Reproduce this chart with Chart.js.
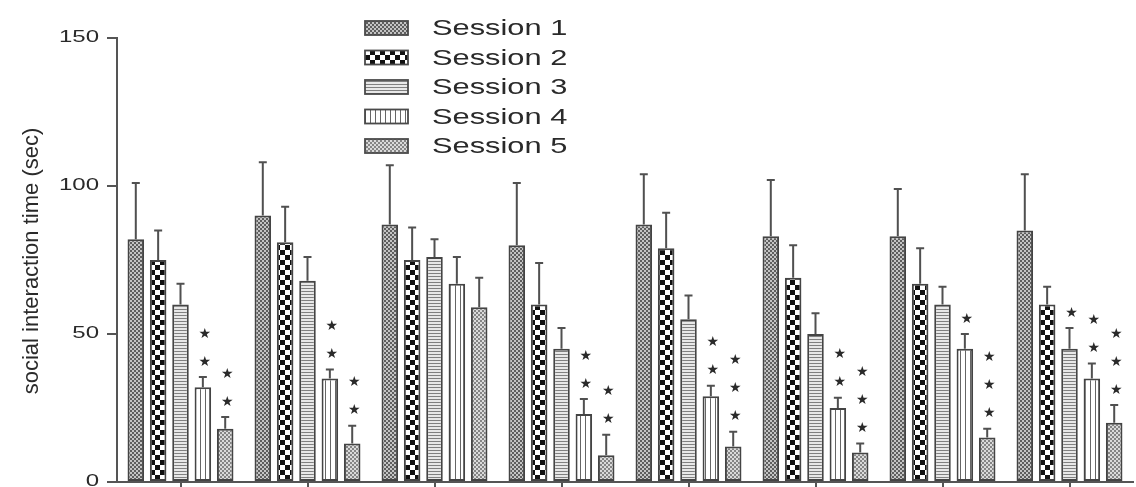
<!DOCTYPE html>
<html>
<head>
<meta charset="utf-8">
<script src="https://cdn.jsdelivr.net/npm/chart.js@4.4.1/dist/chart.umd.min.js"></script>
<style>
  html, body { margin: 0; padding: 0; background: #fff; }
  #wrap { width: 1136px; height: 487px; position: relative; }
</style>
</head>
<body>
<div id="wrap"><canvas id="chart"></canvas></div>
<script>
// --- Data ---
const groups = ['1', '2', '3', '4', '5', '6', '7', '8'];
const sessionNames = ['Session 1', 'Session 2', 'Session 3', 'Session 4', 'Session 5'];

const session1 = [82, 90, 87, 80, 87, 83, 83, 85];
const session2 = [75, 81, 75, 60, 79, 69, 67, 60];
const session3 = [60, 68, 76, 45, 55, 50, 60, 45];
const session4 = [32, 35, 67, 23, 29, 25, 45, 35];
const session5 = [18, 13, 59, 9, 12, 10, 15, 20];

// upper error (sem)
const session1Err = [19, 18, 20, 21, 17, 19, 16, 19];
const session2Err = [10, 12, 11, 14, 12, 11, 12, 6];
const session3Err = [7, 8, 6, 7, 8, 7, 6, 7];
const session4Err = [3.5, 3, 9, 5, 3.5, 3.5, 5, 5];
const session5Err = [4, 6, 10, 7, 5, 3, 3, 6];

// number of asterisks above each bar
const session1Stars = [0, 0, 0, 0, 0, 0, 0, 0];
const session2Stars = [0, 0, 0, 0, 0, 0, 0, 0];
const session3Stars = [0, 0, 0, 0, 0, 0, 0, 1];
const session4Stars = [2, 2, 0, 2, 2, 2, 1, 2];
const session5Stars = [2, 2, 0, 2, 3, 3, 3, 3];

const yTicks = [0, 50, 100, 150];
const yTitle = 'social interaction time (sec)';

const values = [session1, session2, session3, session4, session5];
const errors = [session1Err, session2Err, session3Err, session4Err, session5Err];
const stars = [session1Stars, session2Stars, session3Stars, session4Stars, session5Stars];

// --- Fill patterns ---
function makePattern(kind) {
    const c = document.createElement('canvas');
    const g = c.getContext('2d');
    if (kind === 0 || kind === 4) {
        // fine crosshatch
        c.width = 4; c.height = 4;
        g.fillStyle = kind === 0 ? '#c4c4c4' : '#dadada';
        g.fillRect(0, 0, 4, 4);
        g.fillStyle = kind === 0 ? '#5e5e5e' : '#858585';
        g.fillRect(0, 0, 2, 2);
        g.fillRect(2, 2, 2, 2);
    } else if (kind === 1) {
        // coarse checkerboard
        c.width = 10; c.height = 10;
        g.fillStyle = '#fff';
        g.fillRect(0, 0, 10, 10);
        g.fillStyle = '#111';
        g.fillRect(0, 0, 5, 5);
        g.fillRect(5, 5, 5, 5);
    } else if (kind === 2) {
        // horizontal lines
        c.width = 4; c.height = 3;
        g.fillStyle = '#e8e8e8';
        g.fillRect(0, 0, 4, 3);
        g.fillStyle = '#808080';
        g.fillRect(0, 0, 4, 1);
    } else {
        // vertical lines
        c.width = 5; c.height = 4;
        g.fillStyle = '#ffffff';
        g.fillRect(0, 0, 5, 4);
        g.fillStyle = '#666';
        g.fillRect(0, 0, 1, 4);
    }
    return document.getElementById('chart').getContext('2d').createPattern(c, 'repeat');
}

const patterns = sessionNames.map((_, i) => makePattern(i));

// --- Custom drawing: error bars, asterisks, labels, legend ---
const extrasPlugin = {
    id: 'extras',
    afterDatasetsDraw(chart) {
        const ctx = chart.ctx;
        const y = chart.scales.y;
        ctx.save();
        ctx.strokeStyle = '#505050';
        ctx.lineWidth = 2;
        values.forEach((series, i) => {
            const meta = chart.getDatasetMeta(i);
            series.forEach((v, j) => {
                const bar = meta.data[j];
                const top = y.getPixelForValue(v + errors[i][j]);
                ctx.beginPath();
                ctx.moveTo(bar.x, bar.y);
                ctx.lineTo(bar.x, top);
                ctx.moveTo(bar.x - 4, top);
                ctx.lineTo(bar.x + 4, top);
                ctx.stroke();

                ctx.fillStyle = '#2a2a2a';
                ctx.font = '14px "DejaVu Sans"';
                ctx.textAlign = 'center';
                ctx.textBaseline = 'middle';
                for (let k = 0; k < stars[i][j]; k++) {
                    ctx.fillText('\u2605', bar.x + 2, top - 15 - k * 28);
                }
            });
        });
        ctx.restore();
    },
    afterDraw(chart) {
        const ctx = chart.ctx;
        const y = chart.scales.y;
        ctx.save();
        ctx.fillStyle = '#2a2a2a';

        // y tick labels (wide type as in the source figure)
        ctx.font = '16px "Liberation Sans", Arial, sans-serif';
        ctx.textAlign = 'right';
        ctx.textBaseline = 'middle';
        yTicks.forEach(t => {
            ctx.save();
            ctx.translate(y.left - 8, y.getPixelForValue(t));
            ctx.scale(1.5, 1);
            ctx.fillText(String(t), 0, 0);
            ctx.restore();
        });

        // y axis title
        ctx.save();
        ctx.translate(32, (y.top + y.bottom) / 2 + 1);
        ctx.rotate(-Math.PI / 2);
        ctx.font = '22px "Liberation Sans", Arial, sans-serif';
        ctx.textAlign = 'center';
        ctx.fillText(yTitle, 0, 0);
        ctx.restore();

        // legend
        sessionNames.forEach((name, i) => {
            const rowY = 28 + i * 29.5;
            ctx.fillStyle = patterns[i];
            ctx.fillRect(365, rowY - 7, 43, 14);
            ctx.strokeStyle = '#4a4a4a';
            ctx.lineWidth = 1.8;
            ctx.strokeRect(365, rowY - 7, 43, 14);
            ctx.save();
            ctx.fillStyle = '#2a2a2a';
            ctx.font = '22px "Liberation Sans", Arial, sans-serif';
            ctx.textAlign = 'left';
            ctx.textBaseline = 'middle';
            ctx.translate(432, rowY + 1);
            ctx.scale(1.4, 1);
            ctx.fillText(name, 0, 0);
            ctx.restore();
        });
        ctx.restore();
    }
};

new Chart(document.getElementById('chart'), {
    type: 'bar',
    data: {
        labels: groups,
        datasets: sessionNames.map((name, i) => ({
            label: name,
            data: values[i],
            backgroundColor: patterns[i],
            borderColor: '#444',
            borderWidth: 2,
            borderSkipped: false
        }))
    },
    options: {
        responsive: true,
        maintainAspectRatio: false,
        animation: false,
        layout: { padding: { left: 107, right: 3, top: 38, bottom: 0 } },
        datasets: { bar: { categoryPercentage: 0.88, barPercentage: 0.74 } },
        plugins: {
            legend: { display: false },
            tooltip: { enabled: false }
        },
        scales: {
            x: {
                ticks: { display: false },
                grid: { drawOnChartArea: false, offset: false, tickLength: 5, color: '#555', lineWidth: 2 },
                border: { color: '#555', width: 2 }
            },
            y: {
                min: 0,
                max: 150,
                ticks: { display: false, stepSize: 50 },
                grid: { drawOnChartArea: false, tickLength: 10, color: '#555', lineWidth: 2 },
                border: { color: '#555', width: 2 }
            }
        }
    },
    plugins: [extrasPlugin]
});
</script>
</body>
</html>
